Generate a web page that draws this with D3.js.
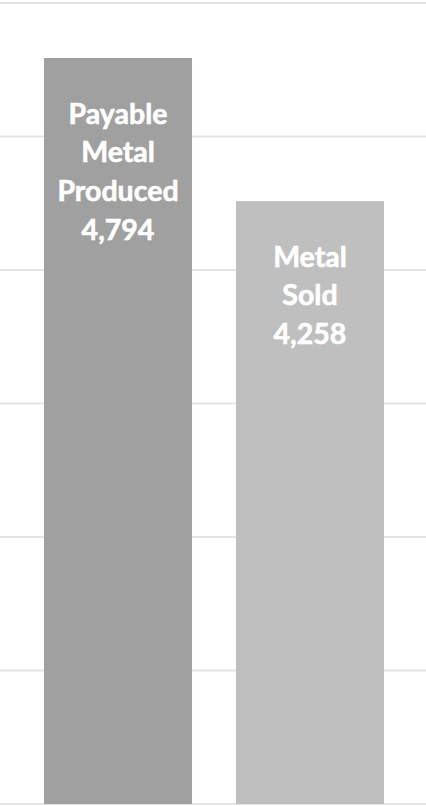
<!DOCTYPE html>
<html>
<head>
<meta charset="utf-8">
<script src="https://cdn.jsdelivr.net/npm/d3@7"></script>
<style>
  html, body { margin: 0; padding: 0; background: #fff; }
  svg { display: block; }
</style>
</head>
<body>
<svg id="chart"></svg>
<script>
var labels = [["Payable", "Metal", "Produced"], ["Metal", "Sold"]];
var categories = ["Payable Metal Produced", "Metal Sold"];
var values = [4794, 4258];
var colors = ["#a0a0a0", "#bfbfbf"];
var yTicks = [2000, 2500, 3000, 3500, 4000, 4500, 5000];

var width = 426,
    height = 806;

var svg = d3.select("#chart")
    .attr("width", width)
    .attr("height", height);

var y = d3.scaleLinear()
    .domain([2000, 5000])
    .range([804, 3]);

var x = d3.scaleBand()
    .domain(categories)
    .range([22, 406])
    .paddingInner(0.229)
    .paddingOuter(0.1146);

var fmt = d3.format(",");

// gridlines
svg.append("g")
    .attr("class", "grid")
    .selectAll("line")
    .data(yTicks)
    .enter().append("line")
    .attr("x1", 0)
    .attr("x2", width)
    .attr("y1", function(d) { return y(d); })
    .attr("y2", function(d) { return y(d); })
    .attr("stroke", "#e4e4e4")
    .attr("stroke-width", 2);

var bars = svg.append("g")
    .selectAll("g")
    .data(categories)
    .enter().append("g");

bars.append("rect")
    .attr("x", function(d) { return x(d); })
    .attr("y", function(d, i) { return y(values[i]); })
    .attr("width", x.bandwidth())
    .attr("height", function(d, i) { return y(2000) - y(values[i]); })
    .attr("fill", function(d, i) { return colors[i]; });

// labels inside the top of each bar
bars.append("text")
    .attr("text-anchor", "middle")
    .attr("fill", "#fff")
    .attr("stroke", "#fff")
    .attr("stroke-width", 0.6)
    .style("font-family", "Lato, 'Open Sans', sans-serif")
    .style("font-weight", "bold")
    .style("font-size", "28.5px")
    .each(function(d, i) {
        var t = d3.select(this);
        var lines = labels[i].concat([fmt(values[i])]);
        lines.forEach(function(s, j) {
            t.append("tspan")
                .attr("x", x(d) + x.bandwidth() / 2)
                .attr("y", y(values[i]) + 65.5 + j * 38.7)
                .text(s);
        });
    });
</script>
</body>
</html>
